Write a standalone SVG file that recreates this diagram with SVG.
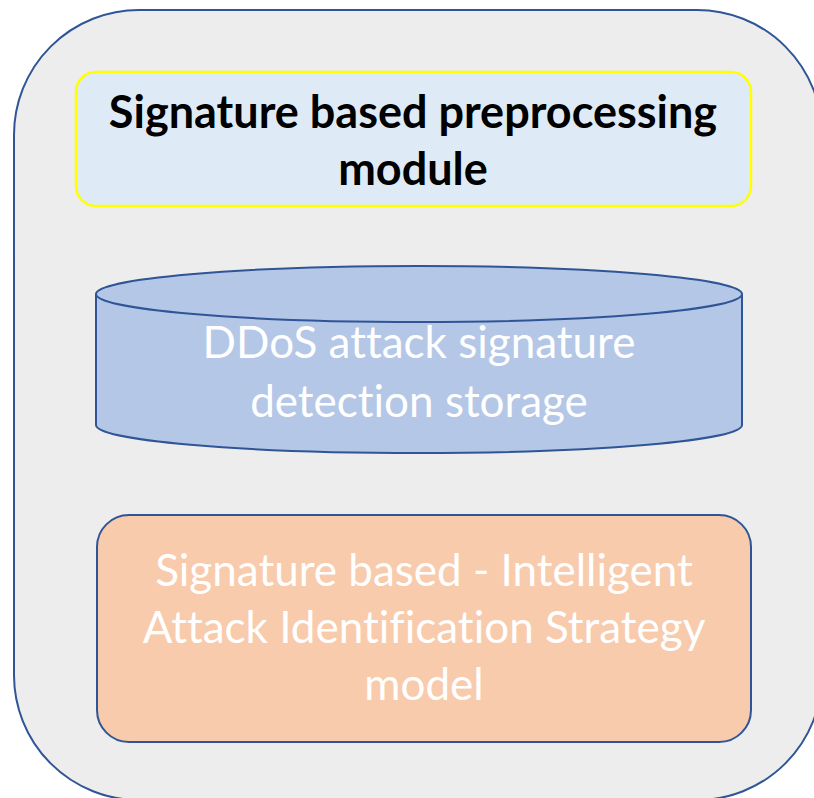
<svg xmlns="http://www.w3.org/2000/svg" width="814" height="798" viewBox="0 0 814 798">
<style>
.t{font-family:Lato,"Open Sans","Liberation Sans",sans-serif;font-size:44px;text-anchor:middle;font-variant-ligatures:none}
.b{font-weight:bold;fill:#000;font-size:45px}
.w{fill:#fff}
.edge{stroke:#2F5597;stroke-width:2}
</style>
<rect width="814" height="798" fill="#fff"/>
<g id="container">
<rect x="14" y="10" width="808" height="790" rx="125" ry="125" fill="#EDEDED" class="edge"/>
</g>
<g id="preprocessing">
<rect x="76" y="72" width="675" height="134" rx="20" ry="20" fill="#DEEBF7" stroke="#FFFF00" stroke-width="2.5"/>
<text class="t b" x="413" y="128">Signature based preprocessing</text>
<text class="t b" x="413" y="185">module</text>
</g>
<g id="storage">
<path d="M96,294 L96,425 A323,28 0 0 0 742,425 L742,294" fill="#B4C7E7" class="edge"/>
<ellipse cx="419" cy="294" rx="323" ry="28" fill="#B4C7E7" class="edge"/>
<text class="t w" x="419" y="358">DDoS attack signature</text>
<text class="t w" x="419" y="417">detection storage</text>
</g>
<g id="model">
<rect x="97" y="515" width="654" height="227" rx="32" ry="32" fill="#F8CBAD" class="edge"/>
<text class="t w" x="424" y="586">Signature based - Intelligent</text>
<text class="t w" x="424" y="643">Attack Identification Strategy</text>
<text class="t w" x="424" y="700">model</text>
</g>
<g id="connectors"/>
</svg>
